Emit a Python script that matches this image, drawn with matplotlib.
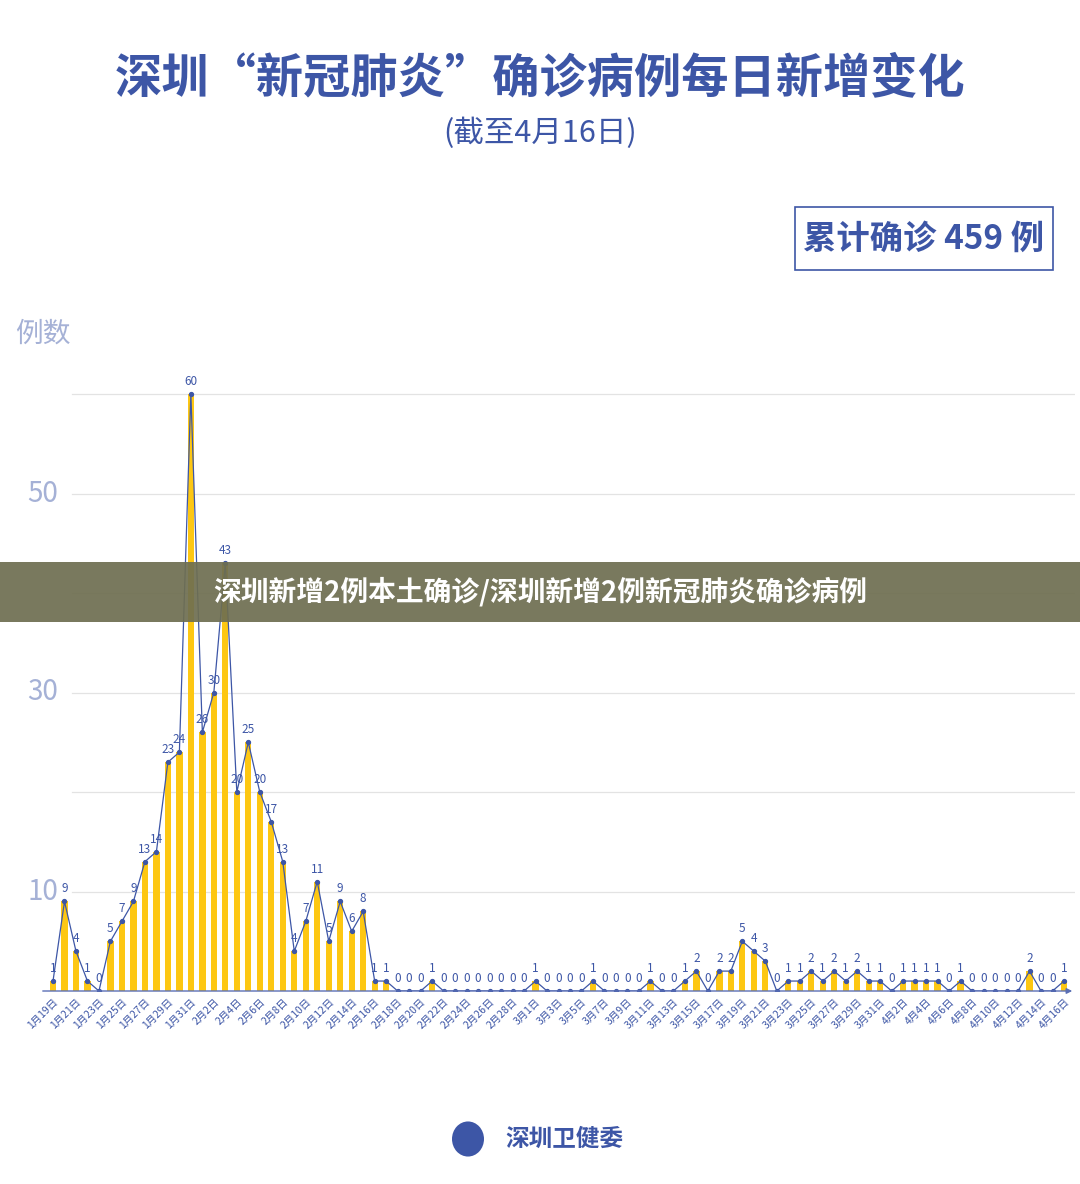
import matplotlib
matplotlib.use("Agg")
import matplotlib.pyplot as plt
from matplotlib.patches import Rectangle
import datetime as dt

plt.rcParams['font.family'] = ['Noto Sans CJK SC', 'DejaVu Sans']

values = [1,9,4,1,0,5,7,9,13,14,23,24,60,
          26,30,43,20,25,20,17,13,4,7,11,5,9,6,8,1,1,0,0,0,1,0,0,0,0,0,0,0,0,
          1,0,0,0,0,1,0,0,0,0,1,0,0,1,2,0,2,2,5,4,3,0,1,1,2,1,2,1,2,1,1,
          0,1,1,1,1,0,1,0,0,0,0,0,2,0,0,1]
start = dt.date(2020, 1, 19)
dates = [start + dt.timedelta(days=i) for i in range(len(values))]
labels = [f"{d.month}月{d.day}日" for d in dates]
yticks = [10, 30, 50]
grid_vals = [10, 20, 30, 40, 50, 60]

W, H = 1080, 1184
fig = plt.figure(figsize=(W/100, H/100), dpi=100)
fig.patch.set_facecolor('white')
blue = '#3D56A6'

def fx(px): return px / W
def fy(py): return 1 - py / H

ax_l, ax_r, ax_t, ax_b = 40, 1075, 380, 991
ax = fig.add_axes([fx(ax_l), fy(ax_b), fx(ax_r - ax_l), (ax_b - ax_t) / H])
n = len(values)
sp = (1064 - 53) / (n - 1)
ax.set_xlim(-(53 - ax_l) / sp, (n - 1) + (ax_r - 1064) / sp)
ax.set_ylim(0, 60 * (ax_b - ax_t) / (991 - 394))
x = list(range(n))
gx0 = (72 - ax_l) / (ax_r - ax_l)
for g in grid_vals:
    ax.axhline(g, xmin=gx0, xmax=1, color='#E3E3E3', lw=0.9, zorder=0)
ax.bar(x, values, width=0.55, color='#FDC713', zorder=2)
ax.plot(x, values, color=blue, lw=0.9, marker='o', ms=2.8, zorder=3)
for xi, v in zip(x, values):
    ax.text(xi, v + 0.6, str(v), ha='center', va='bottom', fontsize=8.5, color=blue, zorder=4)
ax.annotate('', xy=(1, 0), xycoords='axes fraction', xytext=(0, 0),
            arrowprops=dict(arrowstyle='-|>', color='#5A6FB5', lw=1, mutation_scale=8))
for s in ax.spines.values():
    s.set_visible(False)
ax.set_yticks([])
ax.set_xticks(x[::2])
ax.set_xticklabels(labels[::2], rotation=45, ha='right', rotation_mode='anchor',
                   fontsize=7.5, color=blue, style='italic')
ax.tick_params(axis='x', length=0, pad=4)
for t in yticks:
    fig.text(fx(43), fy(991 - t * (991 - 394) / 60), str(t), ha='center', va='center',
             fontsize=20, color='#A5B1D6')
fig.text(fx(43), fy(334), '例数', ha='center', va='center', fontsize=20, color='#A5B1D6')

fig.text(0.5, fy(78), '深圳“新冠肺炎”确诊病例每日新增变化', ha='center', va='center',
         fontsize=34, fontweight='bold', color=blue)
fig.text(0.5, fy(133), '(截至4月16日)', ha='center', va='center', fontsize=22, color=blue)
fig.patches.append(Rectangle((fx(795), fy(270)), fx(258), (270 - 207) / H,
                             transform=fig.transFigure, fill=False, ec=blue, lw=1.2))
fig.text(fx(924), fy(239), '累计确诊 459 例', ha='center', va='center', fontsize=24,
         fontweight='bold', color=blue)

fig.patches.append(Rectangle((0, fy(622)), 1, 60 / H, transform=fig.transFigure,
                             fc='#6E6E50', ec='none', alpha=0.92, zorder=10))
fig.text(0.5, fy(592), '深圳新增2例本土确诊/深圳新增2例新冠肺炎确诊病例', ha='center', va='center',
         fontsize=20, fontweight='bold', color='white', zorder=11)

fig.text(fx(564), fy(1139), '深圳卫健委', ha='center', va='center', fontsize=17,
         fontweight='bold', color=blue)
fig.patches.append(plt.Circle((fx(468), fy(1139)), 16 / W, transform=fig.transFigure,
                              fc=blue, ec='none'))

fig.savefig('out.png', dpi=100)
